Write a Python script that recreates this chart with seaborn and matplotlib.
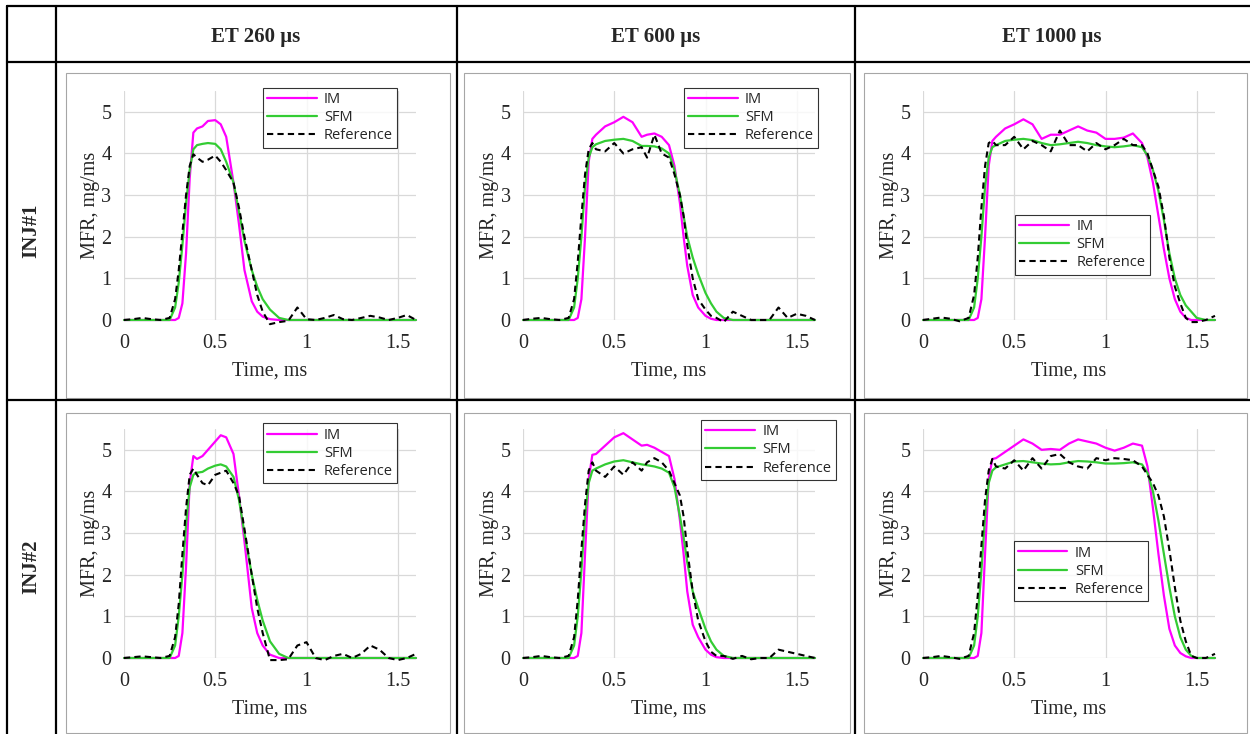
import matplotlib
matplotlib.use("Agg")
import matplotlib.pyplot as plt
import seaborn as sns
from matplotlib.lines import Line2D
from matplotlib.patches import Rectangle

sns.set_style("white")
plt.rcParams['font.family'] = ['Liberation Serif', 'DejaVu Serif']

# ---------------- data ----------------
col_titles = ["ET 260 \u03bcs", "ET 600 \u03bcs", "ET 1000 \u03bcs"]
row_titles = ["INJ#1", "INJ#2"]
series_names = ["IM", "SFM", "Reference"]
x_ticks = [0, 0.5, 1, 1.5]
x_tick_labels = ["0", "0.5", "1", "1.5"]
y_ticks = [0, 1, 2, 3, 4, 5]

t260 = [0,0.05,0.1,0.15,0.2,0.25,0.28,0.3,0.32,0.34,0.36,0.38,0.4,0.43,0.46,0.5,0.53,0.56,0.6,0.63,0.66,0.7,0.73,0.76,0.8,0.85,0.9,0.95,1.0,1.05,1.1,1.15,1.2,1.25,1.3,1.35,1.4,1.45,1.5,1.55,1.6]
inj1_260_im  = [0,0,0,0,0,0,0,0.05,0.4,1.6,3.4,4.5,4.6,4.65,4.78,4.8,4.7,4.4,3.3,2.3,1.2,0.45,0.2,0.08,0.02,0,0,0,0,0,0,0,0,0,0,0,0,0,0,0,0]
inj1_260_sfm = [0,0,0,0,0,0,0.3,0.9,1.8,2.8,3.6,4.1,4.2,4.23,4.25,4.23,4.1,3.8,3.3,2.6,1.9,1.2,0.8,0.5,0.25,0.05,0,0,0,0,0,0,0,0,0,0,0,0,0,0,0]
inj1_260_ref = [0,0.02,0.05,0.02,0,0.05,0.5,1.2,2.1,3.0,3.7,3.98,3.9,3.8,3.85,3.95,3.8,3.6,3.3,2.7,2.0,1.2,0.6,0.2,-0.1,-0.05,-0.02,0.3,0.02,0,0.05,0.12,0.02,0,0.05,0.1,0.06,0,0.05,0.12,0]
inj2_260_im  = [0,0,0,0,0,0,0,0.05,0.6,2.2,4.2,4.85,4.78,4.85,5.0,5.2,5.35,5.3,4.9,3.9,2.8,1.2,0.6,0.3,0.08,0,0,0,0,0,0,0,0,0,0,0,0,0,0,0,0]
inj2_260_sfm = [0,0,0,0,0,0,0.3,1.0,2.0,3.2,4.1,4.4,4.45,4.47,4.55,4.62,4.65,4.6,4.35,3.8,3.0,2.0,1.4,0.9,0.4,0.1,0,0,0,0,0,0,0,0,0,0,0,0,0,0,0]
inj2_260_ref = [0,0.02,0.04,0.02,0,0.05,0.5,1.3,2.5,3.6,4.4,4.55,4.4,4.2,4.15,4.4,4.45,4.5,4.2,3.9,3.1,2.0,1.2,0.6,-0.05,-0.05,-0.03,0.3,0.38,0,-0.05,0.05,0.1,0,0.1,0.3,0.2,0,-0.05,0,0.1]

t600 = [0,0.05,0.1,0.15,0.2,0.25,0.28,0.3,0.32,0.34,0.36,0.38,0.4,0.45,0.5,0.55,0.6,0.65,0.68,0.72,0.76,0.8,0.83,0.86,0.88,0.9,0.93,0.96,1.0,1.03,1.06,1.1,1.15,1.2,1.25,1.3,1.35,1.4,1.45,1.5,1.55,1.6]
inj1_600_im  = [0,0,0,0,0,0,0,0.05,0.5,2.0,3.8,4.35,4.45,4.65,4.75,4.88,4.75,4.4,4.45,4.48,4.4,4.2,3.7,2.8,2.0,1.3,0.6,0.3,0.1,0.03,0,0,0,0,0,0,0,0,0,0,0,0]
inj1_600_sfm = [0,0,0,0,0,0,0.3,1.0,2.0,3.2,3.9,4.15,4.22,4.3,4.33,4.35,4.3,4.18,4.18,4.17,4.12,4.0,3.6,3.0,2.5,2.0,1.5,1.1,0.65,0.4,0.2,0.05,0,0,0,0,0,0,0,0,0,0]
inj1_600_ref = [0,0.03,0.05,0.02,0,0.05,0.5,1.4,2.5,3.5,4.1,4.25,4.1,4.05,4.25,4.0,4.1,4.15,3.9,4.45,4.0,3.9,3.5,3.0,2.5,1.8,1.0,0.5,0.25,0.1,0.05,-0.05,0.2,0.1,0,0,0,0.3,0.05,0.15,0.1,0]
inj2_600_im  = [0,0,0,0,0,0,0,0.05,0.6,2.5,4.3,4.88,4.9,5.1,5.3,5.4,5.25,5.1,5.12,5.05,4.95,4.85,4.3,3.3,2.5,1.6,0.8,0.5,0.2,0.08,0.02,0,0,0,0,0,0,0,0,0,0,0]
inj2_600_sfm = [0,0,0,0,0,0,0.3,1.0,2.1,3.4,4.2,4.5,4.55,4.65,4.72,4.75,4.7,4.65,4.63,4.6,4.55,4.45,4.1,3.4,2.9,2.3,1.6,1.2,0.7,0.4,0.2,0.05,0,0,0,0,0,0,0,0,0,0]
inj2_600_ref = [0,0.02,0.05,0.02,0,0.05,0.5,1.4,2.6,3.7,4.5,4.7,4.5,4.35,4.6,4.4,4.7,4.5,4.7,4.8,4.7,4.5,4.2,3.9,3.4,2.6,1.6,0.9,0.4,0.15,0.05,0.05,-0.02,0.05,-0.03,0,0,0.2,0.15,0.1,0.05,0]

t1000 = [0,0.05,0.1,0.15,0.2,0.25,0.28,0.3,0.32,0.34,0.36,0.38,0.4,0.45,0.5,0.55,0.6,0.65,0.7,0.75,0.8,0.85,0.9,0.95,1.0,1.05,1.1,1.15,1.2,1.23,1.26,1.29,1.32,1.35,1.38,1.41,1.44,1.47,1.5,1.55,1.6]
inj1_1000_im  = [0,0,0,0,0,0,0,0.05,0.5,2.0,3.7,4.3,4.4,4.6,4.7,4.82,4.7,4.35,4.45,4.45,4.55,4.65,4.55,4.5,4.35,4.35,4.38,4.48,4.25,3.9,3.3,2.5,1.7,1.0,0.5,0.2,0.05,0,0,0,0]
inj1_1000_sfm = [0,0,0,0,0,0,0.3,1.0,2.0,3.2,3.9,4.15,4.2,4.3,4.33,4.35,4.32,4.25,4.2,4.22,4.25,4.28,4.25,4.2,4.17,4.15,4.17,4.2,4.15,3.95,3.6,3.1,2.4,1.6,1.0,0.6,0.35,0.2,0.05,0,0]
inj1_1000_ref = [0,0.03,0.06,0.03,-0.03,0.05,0.6,1.5,2.7,3.7,4.25,4.3,4.2,4.2,4.4,4.1,4.3,4.2,4.05,4.55,4.2,4.2,4.05,4.25,4.1,4.2,4.35,4.2,4.2,4.0,3.6,3.2,2.5,1.5,0.8,0.4,0.05,-0.05,-0.05,0,0.1]
inj2_1000_im  = [0,0,0,0,0,0,0,0.05,0.6,2.5,4.3,4.78,4.8,4.95,5.1,5.25,5.15,5.0,5.02,5.0,5.15,5.25,5.2,5.15,5.05,4.98,5.05,5.15,5.1,4.6,3.6,2.5,1.5,0.7,0.3,0.12,0.04,0,0,0,0]
inj2_1000_sfm = [0,0,0,0,0,0,0.3,1.0,2.1,3.4,4.2,4.5,4.58,4.65,4.72,4.73,4.7,4.67,4.65,4.66,4.7,4.73,4.72,4.7,4.67,4.67,4.68,4.7,4.65,4.45,4.0,3.3,2.5,1.7,1.0,0.5,0.2,0.05,0,0,0]
inj2_1000_ref = [0,0.02,0.05,0.02,-0.02,0.05,0.6,1.5,2.7,3.8,4.5,4.78,4.6,4.55,4.75,4.5,4.8,4.55,4.85,4.9,4.7,4.6,4.55,4.8,4.75,4.8,4.78,4.75,4.6,4.4,4.2,3.9,3.4,2.6,1.7,0.9,0.4,0.05,0,0,0.1]

panels = [
    [(t260, inj1_260_im, inj1_260_sfm, inj1_260_ref),
     (t600, inj1_600_im, inj1_600_sfm, inj1_600_ref),
     (t1000, inj1_1000_im, inj1_1000_sfm, inj1_1000_ref)],
    [(t260, inj2_260_im, inj2_260_sfm, inj2_260_ref),
     (t600, inj2_600_im, inj2_600_sfm, inj2_600_ref),
     (t1000, inj2_1000_im, inj2_1000_sfm, inj2_1000_ref)],
]

# ---------------- layout ----------------
W, H = 1250, 734
fig = plt.figure(figsize=(W / 100, H / 100), dpi=100)
fig.patch.set_facecolor("white")

def fx(px): return px / W
def fy(py): return 1 - py / H

axes_x = [124, 523, 923]
axes_w = 292
axes_y = [(91, 320), (429, 658)]
box_x = [(66, 450), (464, 850), (864, 1247)]
box_y = [(73, 398), (413, 733)]
legend_anchor = [[(0.475, 1.015), (0.55, 1.015), (0.315, 0.46)],
                 [(0.475, 1.025), (0.61, 1.04), (0.31, 0.51)]]

colors = {"IM": "#FF00FF", "SFM": "#33CC33", "Reference": "black"}

for r in range(2):
    for c in range(3):
        bx0, bx1 = box_x[c]; by0, by1 = box_y[r]
        fig.add_artist(Rectangle((fx(bx0), fy(by1)), fx(bx1 - bx0), (by1 - by0) / H,
                                 transform=fig.transFigure, fill=False,
                                 edgecolor="#A6A6A6", linewidth=0.8))
        yt, yb = axes_y[r]
        ax = fig.add_axes([fx(axes_x[c]), fy(yb), fx(axes_w), (yb - yt) / H])
        t, im, sfm, ref = panels[r][c]
        sns.lineplot(x=t, y=im, ax=ax, color=colors["IM"], linewidth=1.6, label="IM", clip_on=False)
        sns.lineplot(x=t, y=sfm, ax=ax, color=colors["SFM"], linewidth=1.6, label="SFM", clip_on=False)
        sns.lineplot(x=t, y=ref, ax=ax, color=colors["Reference"], linewidth=1.5,
                     linestyle=(0, (3, 2)), label="Reference", clip_on=False)
        ax.set_xlim(0, 1.6)
        ax.set_ylim(0, 5.5)
        ax.set_xticks(x_ticks)
        ax.set_xticklabels(x_tick_labels)
        ax.set_yticks(y_ticks)
        ax.grid(True, color="#D9D9D9", linewidth=0.9)
        ax.set_axisbelow(True)
        for s in ax.spines.values():
            s.set_visible(False)
        ax.tick_params(axis="x", length=0, labelsize=14.5, pad=10)
        ax.tick_params(axis="y", length=0, labelsize=14.5, pad=9)
        ax.set_xlabel("Time, ms", fontsize=14.5, labelpad=6)
        ax.set_ylabel("MFR, mg/ms", fontsize=14.5, labelpad=1)
        leg = ax.legend(loc="upper left", bbox_to_anchor=legend_anchor[r][c],
                        frameon=True, fancybox=False, edgecolor="black",
                        prop={"family": ["Open Sans", "DejaVu Sans"], "size": 10.5},
                        handlelength=3.4, labelspacing=0.22, borderpad=0.3,
                        handletextpad=0.5, borderaxespad=0)
        leg.get_frame().set_linewidth(0.8)
        ax.set_facecolor("white")

# table lines
lw = 1.6
for yy in [6, 62, 400]:
    fig.add_artist(Line2D([fx(7), fx(1250)], [fy(yy), fy(yy)], transform=fig.transFigure,
                          color="black", linewidth=lw))
for xx in [7, 56, 457, 855]:
    fig.add_artist(Line2D([fx(xx), fx(xx)], [fy(6), fy(734)], transform=fig.transFigure,
                          color="black", linewidth=lw))

col_centers = [256, 656, 1052]
for c, title in enumerate(col_titles):
    fig.text(fx(col_centers[c]), fy(37), title, ha="center", va="center",
             fontsize=15, fontweight="bold")
row_centers = [231, 567]
for r, title in enumerate(row_titles):
    fig.text(fx(31), fy(row_centers[r]), title, ha="center", va="center",
             fontsize=15, fontweight="bold", rotation=90)

fig.savefig("out.png", dpi=100, facecolor="white")
